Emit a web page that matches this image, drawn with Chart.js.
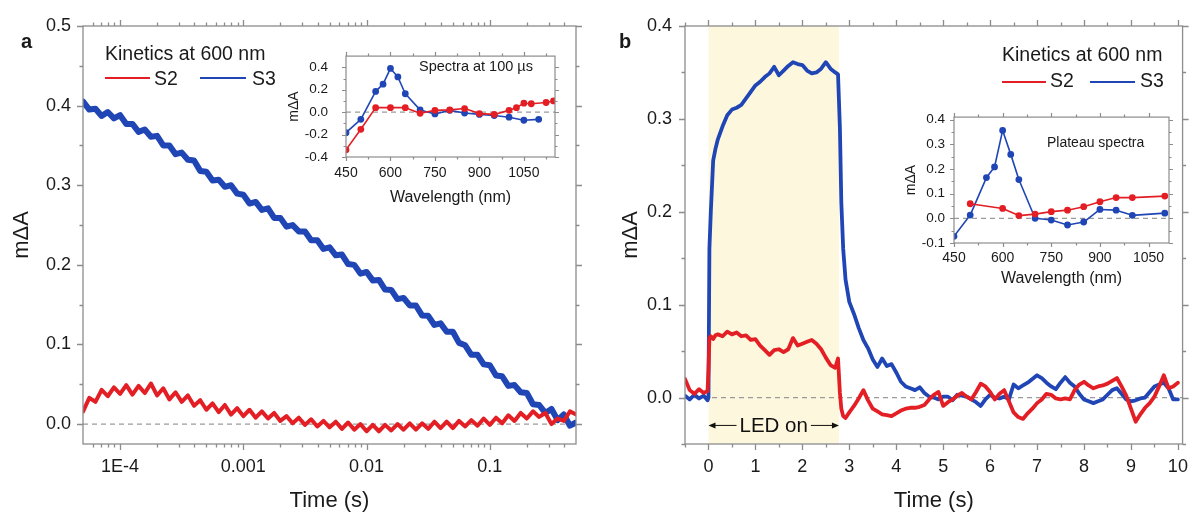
<!DOCTYPE html>
<html><head><meta charset="utf-8">
<script src="https://cdn.jsdelivr.net/npm/chart.js@4.4.1/dist/chart.umd.min.js"></script>
<style>
html,body{margin:0;padding:0;background:#fff}
body{width:1200px;height:514px;overflow:hidden;position:relative;font-family:"Liberation Sans",Arial,sans-serif;color:#1a1a1a}
.box{position:absolute}
.t{position:absolute;white-space:nowrap;line-height:1}
.ln{position:absolute;height:2px}
</style></head>
<body>
<div class="box" style="left:0;top:0;width:600px;height:514px"><canvas id="cA"></canvas></div>
<div class="box" style="left:600px;top:0;width:600px;height:514px"><canvas id="cB"></canvas></div>
<div class="box" style="left:280px;top:30px;width:290px;height:180px"><canvas id="cAi"></canvas></div>
<div class="box" style="left:890px;top:100px;width:290px;height:190px"><canvas id="cBi"></canvas></div>

<div class="t" style="left:21px;top:31px;font-size:20px;font-weight:bold">a</div>
<div class="t" style="left:619px;top:31px;font-size:20px;font-weight:bold">b</div>

<div class="t" style="left:105px;top:43.5px;font-size:19.5px">Kinetics at 600 nm</div>
<div class="ln" style="left:105px;top:77px;width:45px;background:#E31E24"></div>
<div class="t" style="left:154px;top:68.5px;font-size:19.5px">S2</div>
<div class="ln" style="left:200px;top:77px;width:46px;background:#2046B6"></div>
<div class="t" style="left:252px;top:68.5px;font-size:19.5px">S3</div>

<div class="t" style="left:1002px;top:45px;font-size:19.5px">Kinetics at 600 nm</div>
<div class="ln" style="left:1002px;top:80.5px;width:44px;background:#E31E24"></div>
<div class="t" style="left:1050px;top:70.8px;font-size:19.5px">S2</div>
<div class="ln" style="left:1090px;top:80.5px;width:45px;background:#2046B6"></div>
<div class="t" style="left:1140px;top:70.8px;font-size:19.5px">S3</div>

<div class="t" style="left:419px;top:59.4px;font-size:14.5px">Spectra at 100 µs</div>
<div class="t" style="left:1047px;top:134.8px;font-size:14px">Plateau spectra</div>

<script>
// ---------------- DATA ----------------
// Panel a: kinetics at 600 nm (log time axis), time given as log10(seconds)
const aLogTime = [-4.30,-4.25,-4.20,-4.15,-4.10,-4.05,-4.00,-3.95,-3.90,-3.85,-3.80,-3.75,-3.70,-3.65,-3.60,-3.55,-3.50,-3.45,-3.40,-3.35,-3.30,-3.25,-3.20,-3.15,-3.10,-3.05,-3.00,-2.95,-2.90,-2.85,-2.80,-2.75,-2.70,-2.65,-2.60,-2.55,-2.50,-2.45,-2.40,-2.35,-2.30,-2.25,-2.20,-2.15,-2.10,-2.05,-2.00,-1.95,-1.90,-1.85,-1.80,-1.75,-1.70,-1.65,-1.60,-1.55,-1.50,-1.45,-1.40,-1.35,-1.30,-1.25,-1.20,-1.15,-1.10,-1.05,-1.00,-0.95,-0.90,-0.85,-0.80,-0.75,-0.70,-0.65,-0.60,-0.55,-0.50,-0.45,-0.40,-0.35,-0.30];
const aS2 = [0.016,0.033,0.028,0.043,0.035,0.046,0.038,0.049,0.037,0.048,
0.039,0.051,0.036,0.045,0.031,0.040,0.028,0.036,0.023,0.030,
0.018,0.026,0.015,0.024,0.012,0.020,0.010,0.018,0.008,0.016,
0.007,0.014,0.004,0.010,0.001,0.008,-0.001,0.006,-0.003,0.004,
-0.004,0.003,-0.006,0.002,-0.007,0.000,-0.009,-0.001,-0.009,-0.001,
-0.008,0.000,-0.007,0.001,-0.007,0.001,-0.006,0.003,-0.005,0.003,
-0.005,0.004,-0.003,0.005,-0.002,0.007,-0.001,0.008,0.001,0.011,
0.004,0.014,0.007,0.016,0.009,0.014,0.000,0.007,0.004,0.016,0.012];
const aS3 = [0.405,0.395,0.396,0.387,0.392,0.384,0.388,0.377,0.377,0.367,
0.370,0.361,0.362,0.350,0.350,0.339,0.341,0.332,0.331,0.318,
0.317,0.306,0.307,0.298,0.300,0.2895,0.288,0.277,0.279,0.269,
0.271,0.259,0.259,0.248,0.250,0.242,0.242,0.231,0.231,0.220,
0.222,0.212,0.213,0.201,0.200,0.189,0.191,0.1805,0.181,0.169,
0.1685,0.157,0.1585,0.149,0.149,0.1365,0.136,0.1245,0.1265,0.116,
0.116,0.102,0.099,0.087,0.087,0.075,0.074,0.061,0.060,0.048,
0.049,0.040,0.039,0.025,0.024,0.014,0.019,0.005,0.012,-0.002,0.002];
const aXTicks = [1e-4,1e-3,1e-2,1e-1];
const aXTickLabels = ['1E-4','0.001','0.01','0.1'];
const aXMinor = [6e-5,7e-5,8e-5,9e-5,2e-4,3e-4,4e-4,5e-4,6e-4,7e-4,8e-4,9e-4,2e-3,3e-3,4e-3,5e-3,6e-3,7e-3,8e-3,9e-3,2e-2,3e-2,4e-2,5e-2,6e-2,7e-2,8e-2,9e-2,0.2,0.3,0.4];
const aYTicks = [0,0.1,0.2,0.3,0.4,0.5];
const aYTickLabels = ['0.0','0.1','0.2','0.3','0.4','0.5'];
const aYMinor = [0.05,0.15,0.25,0.35,0.45];

// Panel a inset: spectra at 100 us
const aiWaveS2 = [450,500,550,600,650,700,750,800,850,900,950,1000,1025,1050,1075,1125,1150];
const aiS2 = [-0.336,-0.153,0.040,0.040,0.040,-0.010,0.016,0.020,0.032,-0.013,-0.020,0.016,0.040,0.080,0.075,0.086,0.100];
const aiWaveS3 = [450,500,550,575,600,625,650,700,750,800,850,900,950,1000,1050,1100];
const aiS3 = [-0.183,-0.064,0.185,0.250,0.390,0.314,0.164,0.020,-0.016,0.016,-0.008,-0.020,-0.030,-0.045,-0.072,-0.064];
const aiXTicks = [450,600,750,900,1050];
const aiXTickLabels = ['450','600','750','900','1050'];
const aiXMinor = [525,675,825,975,1125];
const aiYTicks = [-0.4,-0.2,0,0.2,0.4];
const aiYTickLabels = ['-0.4','-0.2','0.0','0.2','0.4'];
const aiYMinor = [-0.3,-0.1,0.1,0.3];

// Panel b: kinetics at 600 nm, LED on 0 - 2.78 s
const bTime = [-0.5,-0.4,-0.3,-0.2,-0.1,-0.02,0,0.02,0.05,0.1,0.15,0.2,
0.3,0.4,0.5,0.6,0.7,0.8,0.9,1.0,1.1,1.2,1.3,1.4,1.5,1.6,1.7,1.8,1.9,2.0,2.1,2.2,2.3,2.4,2.5,2.6,2.7,
2.76,2.8,2.83,2.87,2.92,
3.0,3.1,3.2,3.3,3.4,3.5,3.6,3.7,3.8,3.9,4.0,4.1,4.2,4.3,4.4,4.5,4.6,4.7,4.8,4.9,
5.0,5.1,5.2,5.3,5.4,5.5,5.6,5.7,5.8,5.9,6.0,6.1,6.2,6.3,6.4,6.5,6.6,6.7,6.8,6.9,
7.0,7.1,7.2,7.3,7.4,7.5,7.6,7.7,7.8,7.9,8.0,8.1,8.2,8.3,8.4,8.5,8.6,8.7,8.8,8.9,
9.0,9.1,9.2,9.3,9.4,9.5,9.6,9.7,9.8,9.9,10.0];
const bS2 = [0.020,0.008,0.004,0.009,0.005,0.007,0.030,0.064,0.066,0.063,0.067,0.068,
0.066,0.071,0.068,0.070,0.066,0.067,0.062,0.063,0.056,0.051,0.046,0.051,0.052,0.049,0.052,0.064,0.056,0.058,0.060,0.062,0.058,0.052,0.043,0.035,0.032,
0.042,0.005,-0.012,-0.020,-0.022,
-0.016,-0.009,-0.001,0.008,-0.003,-0.012,-0.015,-0.018,-0.019,-0.020,
-0.017,-0.014,-0.012,-0.011,-0.011,-0.010,-0.008,-0.002,0.003,0.006,
-0.009,-0.005,-0.002,0.002,0.005,0.001,-0.002,0.006,0.015,0.012,
0.006,-0.002,0.004,0.008,-0.004,-0.016,-0.021,-0.023,-0.017,-0.012,
-0.006,-0.002,0.004,0.003,-0.001,-0.002,-0.001,-0.002,0.008,0.014,
0.017,0.013,0.010,0.012,0.013,0.015,0.018,0.021,0.012,0.002,
-0.012,-0.026,-0.018,-0.011,-0.006,0.001,0.012,0.024,0.010,0.012,0.016];
const bS3 = [0.002,-0.002,0.003,-0.001,0.002,-0.003,0.000,0.160,0.200,0.255,0.268,0.278,
0.292,0.304,0.310,0.312,0.315,0.322,0.329,0.336,0.340,0.345,0.349,0.356,0.347,0.352,0.357,0.361,0.359,0.358,0.352,0.349,0.350,0.354,0.361,0.354,0.350,
0.348,0.290,0.210,0.160,0.127,
0.103,0.090,0.075,0.062,0.053,0.041,0.033,0.042,0.034,0.036,
0.027,0.017,0.012,0.010,0.008,0.011,0.005,0.001,0.000,-0.002,
0.001,0.001,-0.003,0.003,0.002,0.001,-0.002,-0.005,-0.009,-0.002,
0.003,0.000,-0.001,0.001,-0.002,0.014,0.010,0.013,0.016,0.020,
0.024,0.021,0.016,0.012,0.009,0.016,0.022,0.016,0.012,0.004,
-0.002,-0.004,-0.006,-0.004,-0.002,0.003,0.008,0.010,0.004,-0.002,
-0.004,-0.003,-0.001,0.000,0.006,0.012,0.014,0.016,0.010,-0.002,-0.002];
const bLed = [0, 2.78];
const bXTicks = [0,1,2,3,4,5,6,7,8,9,10];
const bXTickLabels = ['0','1','2','3','4','5','6','7','8','9','10'];
const bXMinor = [-0.5,0.5,1.5,2.5,3.5,4.5,5.5,6.5,7.5,8.5,9.5];
const bYTicks = [0,0.1,0.2,0.3,0.4];
const bYTickLabels = ['0.0','0.1','0.2','0.3','0.4'];
const bYMinor = [-0.05,0.05,0.15,0.25,0.35];

// Panel b inset: plateau spectra
const biWaveS2 = [500,600,650,700,750,800,850,900,950,1000,1100];
const biS2 = [0.059,0.040,0.011,0.017,0.027,0.033,0.047,0.067,0.084,0.084,0.090];
const biWaveS3 = [450,500,550,575,600,625,650,700,750,800,850,900,950,1000,1100];
const biS3 = [-0.073,0.013,0.165,0.208,0.356,0.259,0.157,0.000,-0.007,-0.027,-0.015,0.036,0.033,0.012,0.021];
const biXTicks = [450,600,750,900,1050];
const biXTickLabels = ['450','600','750','900','1050'];
const biXMinor = [525,675,825,975];
const biYTicks = [-0.1,0,0.1,0.2,0.3,0.4];
const biYTickLabels = ['-0.1','0.0','0.1','0.2','0.3','0.4'];
const biYMinor = [-0.05,0.05,0.15,0.25,0.35];

// ---------------- STYLE ----------------
const RED = '#E31E24', BLUE = '#2046B6', TXT = '#1a1a1a', AXC = '#8c8c8c';
Chart.defaults.font.family = '"Liberation Sans", Arial, sans-serif';
Chart.defaults.color = TXT;

const framePlugin = {
  id: 'frame',
  beforeDatasetsDraw(chart, args, o) {
    const {ctx, chartArea: a, scales} = chart;
    ctx.save();
    if (o.shade) {
      const x0 = scales.x.getPixelForValue(o.shade[0]), x1 = scales.x.getPixelForValue(o.shade[1]);
      ctx.fillStyle = '#FDF7DE';
      ctx.fillRect(x0, a.top, x1 - x0, a.bottom - a.top);
    }
    const y0 = scales.y.getPixelForValue(0);
    ctx.strokeStyle = '#9a9a9a'; ctx.lineWidth = 1.2; ctx.setLineDash([5, 4]);
    ctx.beginPath(); ctx.moveTo(a.left, y0); ctx.lineTo(a.right, y0); ctx.stroke();
    ctx.restore();
  },
  afterDatasetsDraw(chart, args, o) {
    const {ctx, chartArea: a, scales} = chart;
    ctx.save();
    ctx.strokeStyle = AXC; ctx.lineWidth = o.lw || 1.3; ctx.setLineDash([]);
    ctx.strokeRect(a.left, a.top, a.right - a.left, a.bottom - a.top);
    const xs = scales.x, ys = scales.y;
    const drawX = (vals, len) => vals.forEach(v => {
      const p = Math.round(xs.getPixelForValue(v)) + 0.5;
      ctx.beginPath(); ctx.moveTo(p, a.bottom); ctx.lineTo(p, a.bottom + len);
      ctx.moveTo(p, a.top); ctx.lineTo(p, a.top - len); ctx.stroke();
    });
    const drawY = (vals, len) => vals.forEach(v => {
      const p = Math.round(ys.getPixelForValue(v)) + 0.5;
      ctx.beginPath(); ctx.moveTo(a.left, p); ctx.lineTo(a.left - len, p);
      ctx.moveTo(a.right, p); ctx.lineTo(a.right + len, p); ctx.stroke();
    });
    drawX(o.xMajor, o.majLen); drawX(o.xMinor, o.minLen);
    drawY(o.yMajor, o.majLen); drawY(o.yMinor, o.minLen);
    if (o.led) {
      const x0 = xs.getPixelForValue(o.led[0]), x1 = xs.getPixelForValue(o.led[1]);
      const y = ys.getPixelForValue(o.ledY);
      ctx.font = '20.5px "Liberation Sans", Arial, sans-serif';
      ctx.fillStyle = '#111'; ctx.strokeStyle = '#111'; ctx.lineWidth = 1;
      const txt = 'LED on', w = ctx.measureText(txt).width, cx = (x0 + x1) / 2;
      ctx.textAlign = 'center'; ctx.textBaseline = 'middle';
      ctx.fillText(txt, cx, y + 1);
      ctx.beginPath();
      ctx.moveTo(x0 + 2, y); ctx.lineTo(cx - w / 2 - 3, y);
      ctx.moveTo(cx + w / 2 + 3, y); ctx.lineTo(x1 - 2, y); ctx.stroke();
      ctx.beginPath(); ctx.moveTo(x0, y); ctx.lineTo(x0 + 7, y - 3); ctx.lineTo(x0 + 7, y + 3); ctx.closePath(); ctx.fill();
      ctx.beginPath(); ctx.moveTo(x1, y); ctx.lineTo(x1 - 7, y - 3); ctx.lineTo(x1 - 7, y + 3); ctx.closePath(); ctx.fill();
    }
    ctx.restore();
  }
};

function axis(cfg) {
  return {
    type: cfg.type || 'linear', min: cfg.min, max: cfg.max,
    afterFit: s => { if (cfg.w !== undefined) s.width = cfg.w; if (cfg.h !== undefined) s.height = cfg.h; },
    afterBuildTicks: s => { s.ticks = cfg.ticks.map(v => ({value: v})); },
    ticks: {callback: (v, i) => cfg.labels[i], autoSkip: false, maxRotation: 0, minRotation: 0,
            padding: cfg.pad, font: {size: cfg.fs}, color: TXT},
    grid: {display: false, drawTicks: false},
    border: {display: false},
    title: {display: true, text: cfg.title, color: TXT, font: {size: cfg.tfs}, padding: cfg.tpad}
  };
}
function pts(xs, ys) { return xs.map((x, i) => ({x: x, y: ys[i]})); }

function makeChart(id, datasets, pad, xs, ys, frame) {
  return new Chart(document.getElementById(id), {
    type: 'line',
    data: {datasets: datasets},
    options: {
      responsive: true, maintainAspectRatio: false, animation: false, events: [],
      layout: {padding: pad},
      elements: {line: {tension: 0, borderJoinStyle: 'round', borderCapStyle: 'round'}},
      scales: {x: xs, y: ys},
      plugins: {legend: {display: false}, tooltip: {enabled: false}, frame: frame}
    },
    plugins: [framePlugin]
  });
}

// Panel a
const aTime = aLogTime.map(v => Math.pow(10, v));
makeChart('cA', [
  {label: 'S2', data: pts(aTime, aS2), borderColor: RED, borderWidth: 4, pointRadius: 0},
  {label: 'S3', data: pts(aTime, aS3), borderColor: BLUE, borderWidth: 6, pointRadius: 0}
], {top: 26, right: 24, left: 0, bottom: 0},
  axis({type: 'logarithmic', min: 5e-5, max: 0.5, h: 70, ticks: aXTicks, labels: aXTickLabels, pad: 12, fs: 18, title: 'Time (s)', tfs: 22, tpad: {top: 0, bottom: 0}}),
  axis({min: -0.025, max: 0.5, w: 83, ticks: aYTicks, labels: aYTickLabels, pad: 12, fs: 18, title: 'mΔA', tfs: 22, tpad: {top: 9, bottom: 0}}),
  {xMajor: aXTicks, xMinor: aXMinor, yMajor: aYTicks, yMinor: aYMinor, majLen: 6, minLen: 3.5}
);

// Panel b
makeChart('cB', [
  {label: 'S2', data: pts(bTime, bS2), borderColor: RED, borderWidth: 3.8, pointRadius: 0},
  {label: 'S3', data: pts(bTime, bS3), borderColor: BLUE, borderWidth: 3.8, pointRadius: 0}
], {top: 26, right: 11, left: 0, bottom: 0},
  axis({min: -0.5, max: 10.1, h: 70, ticks: bXTicks, labels: bXTickLabels, pad: 12, fs: 18, title: 'Time (s)', tfs: 22, tpad: {top: 0, bottom: 0}}),
  axis({min: -0.05, max: 0.4, w: 85, ticks: bYTicks, labels: bYTickLabels, pad: 13, fs: 18, title: 'mΔA', tfs: 22, tpad: {top: 18, bottom: 0}}),
  {xMajor: bXTicks, xMinor: bXMinor, yMajor: bYTicks, yMinor: bYMinor, majLen: 6, minLen: 3.5, shade: bLed, led: bLed, ledY: -0.03}
);

// Inset a
makeChart('cAi', [
  {label: 'S2', data: pts(aiWaveS2, aiS2), borderColor: RED, backgroundColor: RED, borderWidth: 1.6, pointRadius: 2.6},
  {label: 'S3', data: pts(aiWaveS3, aiS3), borderColor: BLUE, backgroundColor: BLUE, borderWidth: 1.6, pointRadius: 2.6}
], {top: 15, right: 15, left: 0, bottom: 0},
  axis({min: 450, max: 1155, h: 53, ticks: aiXTicks, labels: aiXTickLabels, pad: 8, fs: 14, title: 'Wavelength (nm)', tfs: 16, tpad: {top: 0, bottom: 3}}),
  axis({min: -0.4, max: 0.5, w: 66, ticks: aiYTicks, labels: aiYTickLabels, pad: 18, fs: 13.5, title: 'mΔA', tfs: 14, tpad: {top: 6, bottom: 0}}),
  {xMajor: aiXTicks, xMinor: aiXMinor, yMajor: aiYTicks, yMinor: aiYMinor, majLen: 4, minLen: 2.5, lw: 1.2}
);

// Inset b
makeChart('cBi', [
  {label: 'S2', data: pts(biWaveS2, biS2), borderColor: RED, backgroundColor: RED, borderWidth: 1.6, pointRadius: 2.6},
  {label: 'S3', data: pts(biWaveS3, biS3), borderColor: BLUE, backgroundColor: BLUE, borderWidth: 1.6, pointRadius: 2.6}
], {top: 16, right: 11, left: 0, bottom: 0},
  axis({min: 450, max: 1113, h: 47, ticks: biXTicks, labels: biXTickLabels, pad: 7, fs: 14, title: 'Wavelength (nm)', tfs: 16, tpad: {top: 0, bottom: 2}}),
  axis({min: -0.1, max: 0.41, w: 64, ticks: biYTicks, labels: biYTickLabels, pad: 9, fs: 13.5, title: 'mΔA', tfs: 14, tpad: {top: 13, bottom: 0}}),
  {xMajor: biXTicks, xMinor: biXMinor, yMajor: biYTicks, yMinor: biYMinor, majLen: 4, minLen: 2.5, lw: 1.2}
);
</script>
</body></html>
